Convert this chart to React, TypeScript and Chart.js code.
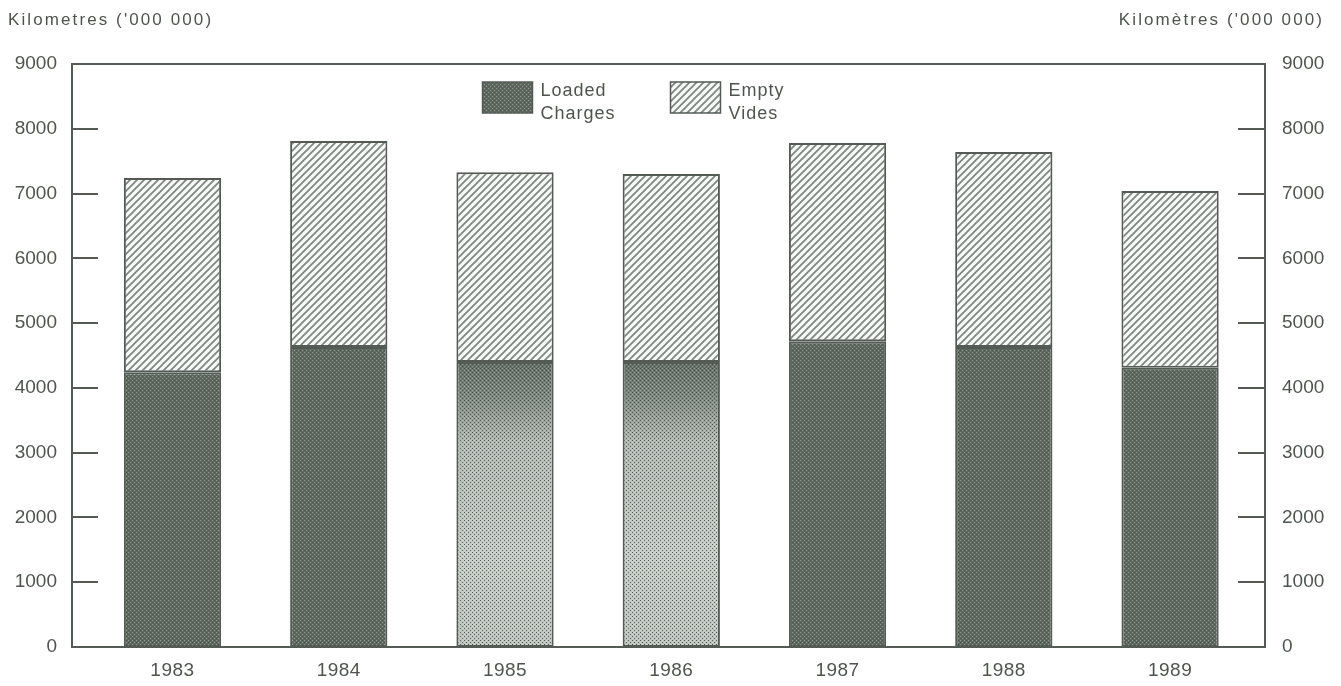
import React, { useEffect, useRef } from 'react';
import { Chart, registerables } from 'chart.js';

Chart.register(...registerables);

const years = ['1983', '1984', '1985', '1986', '1987', '1988', '1989'];
const loaded = [4240, 4630, 4400, 4400, 4720, 4630, 4310];
const empty = [3000, 3180, 2930, 2900, 3060, 3010, 2730];
const yTicks = [0, 1000, 2000, 3000, 4000, 5000, 6000, 7000, 8000, 9000];
const leftTitle = "Kilometres ('000 000)";
const rightTitle = "Kilomètres ('000 000)";
const loadedLabel = ['Loaded', 'Charges'];
const emptyLabel = ['Empty', 'Vides'];
const lightLoadedYears = ['1985', '1986'];

const FONT = "'Liberation Sans', Arial, Helvetica, sans-serif";
const TEXT = '#4e554f';
const LINE = '#535b54';

function makeHatch(ctx: CanvasRenderingContext2D) {
  const s = 7;
  const c = document.createElement('canvas');
  c.width = s;
  c.height = s;
  const g = c.getContext('2d')!;
  g.fillStyle = '#f5f8f5';
  g.fillRect(0, 0, s, s);
  g.strokeStyle = '#7b837c';
  g.lineWidth = 1.6;
  g.beginPath();
  g.moveTo(-1, s + 1);
  g.lineTo(s + 1, -1);
  g.moveTo(-s / 2 - 1, s / 2 + 1);
  g.lineTo(s / 2 + 1, -s / 2 - 1);
  g.moveTo(s / 2 - 1, s * 1.5 + 1);
  g.lineTo(s * 1.5 + 1, s / 2 - 1);
  g.stroke();
  return ctx.createPattern(c, 'repeat')!;
}

function makeDots(ctx: CanvasRenderingContext2D) {
  const c = document.createElement('canvas');
  c.width = 4;
  c.height = 4;
  const g = c.getContext('2d')!;
  g.fillStyle = '#5e685f';
  g.fillRect(0, 0, 4, 4);
  g.fillStyle = '#939d94';
  g.fillRect(0, 0, 1, 1);
  g.fillRect(2, 2, 1, 1);
  g.fillStyle = '#4c554d';
  g.fillRect(2, 0, 1, 1);
  g.fillRect(0, 2, 1, 1);
  return ctx.createPattern(c, 'repeat')!;
}

function makeFadingDots(ctx: CanvasRenderingContext2D, h: number, yTop: number) {
  const c = document.createElement('canvas');
  c.width = 4;
  c.height = Math.max(1, Math.ceil(h));
  const g = c.getContext('2d')!;
  const grad = g.createLinearGradient(0, yTop, 0, h);
  grad.addColorStop(0, '#646e66');
  grad.addColorStop(0.1, '#7d867e');
  grad.addColorStop(0.25, '#b3bab3');
  grad.addColorStop(0.6, '#c6ccc6');
  grad.addColorStop(1, '#b9c0ba');
  g.fillStyle = grad;
  g.fillRect(0, 0, 4, c.height);
  for (let y = 0; y < c.height; y += 4) {
    g.fillStyle = 'rgba(60,68,62,0.8)';
    g.fillRect(0, y, 1, 1);
    g.fillRect(2, y + 2, 1, 1);
    g.fillStyle = 'rgba(255,255,255,0.3)';
    g.fillRect(2, y, 1, 1);
    g.fillRect(0, y + 2, 1, 1);
  }
  return ctx.createPattern(c, 'repeat')!;
}

export default function App() {
  const ref = useRef<HTMLCanvasElement>(null);

  useEffect(() => {
    const canvas = ref.current!;
    const ctx0 = canvas.getContext('2d')!;
    const hatch = makeHatch(ctx0);
    const dots = makeDots(ctx0);
    const fadeCache: Record<string, CanvasPattern> = {};

    const loadedFill = (c: any) => {
      const chart = c.chart;
      const i = c.dataIndex;
      if (i === undefined || !chart.chartArea || !chart.scales || !chart.scales.y) return dots;
      if (lightLoadedYears.includes(years[i])) {
        const yTop = chart.scales.y.getPixelForValue(loaded[i]);
        const key = String(Math.round(yTop));
        if (!fadeCache[key]) fadeCache[key] = makeFadingDots(chart.ctx, chart.height, yTop);
        return fadeCache[key];
      }
      return dots;
    };

    const framePlugin = {
      id: 'framePlugin',
      afterDatasetsDraw(chart: any) {
        const { ctx, chartArea } = chart;
        const { left, right, top, bottom } = chartArea;
        const y = chart.scales.y;
        ctx.save();
        ctx.strokeStyle = LINE;
        ctx.lineWidth = 2;
        ctx.strokeRect(left, top, right - left, bottom - top);
        ctx.beginPath();
        yTicks.slice(1, -1).forEach((v) => {
          const py = Math.round(y.getPixelForValue(v));
          ctx.moveTo(left, py);
          ctx.lineTo(left + 26, py);
          ctx.moveTo(right - 27, py);
          ctx.lineTo(right, py);
        });
        ctx.stroke();
        ctx.restore();
      },
      afterDraw(chart: any) {
        const { ctx, chartArea } = chart;
        const xs = chart.scales.x;
        ctx.save();
        ctx.fillStyle = TEXT;
        ctx.textBaseline = 'middle';

        // category labels under the bars
        ctx.font = `19px ${FONT}`;
        (ctx as any).letterSpacing = '0.5px';
        ctx.textAlign = 'center';
        years.forEach((yr, i) => {
          ctx.fillText(yr, xs.getPixelForValue(i), chartArea.bottom + 24);
        });

        ctx.font = `17px ${FONT}`;
        (ctx as any).letterSpacing = '2.1px';
        ctx.textAlign = 'left';
        ctx.fillText(leftTitle, 0, 12);
        ctx.textAlign = 'right';
        ctx.fillText(rightTitle, chart.width - 9, 12);

        // legend
        const cx = (chartArea.left + chartArea.right) / 2;
        const items = [
          { fill: dots, text: loadedLabel, x: cx - 186 },
          { fill: hatch, text: emptyLabel, x: cx + 2 },
        ];
        items.forEach((it) => {
          ctx.fillStyle = it.fill;
          ctx.fillRect(it.x, 74, 50, 31);
          ctx.strokeStyle = LINE;
          ctx.lineWidth = 1.5;
          ctx.strokeRect(it.x, 74, 50, 31);
          ctx.fillStyle = TEXT;
          ctx.font = `18px ${FONT}`;
          (ctx as any).letterSpacing = '1px';
          ctx.textAlign = 'left';
          ctx.fillText(it.text[0], it.x + 58, 83);
          ctx.fillText(it.text[1], it.x + 58, 106);
        });
        ctx.restore();
      },
    };

    const tickFont = { family: FONT, size: 19 };

    const chart = new Chart(canvas, {
      type: 'bar',
      data: {
        datasets: [
          {
            label: loadedLabel.join(' / '),
            data: years.map((_, i) => ({ x: i, y: loaded[i] })),
            backgroundColor: loadedFill as any,
            borderColor: LINE,
            borderWidth: 2,
            borderSkipped: false,
            barPercentage: 0.585,
            categoryPercentage: 1,
          },
          {
            label: emptyLabel.join(' / '),
            data: years.map((_, i) => ({ x: i, y: empty[i] })),
            backgroundColor: hatch as any,
            borderColor: LINE,
            borderWidth: 2,
            borderSkipped: false,
            barPercentage: 0.585,
            categoryPercentage: 1,
          },
        ],
      },
      options: {
        responsive: false,
        animation: false,
        layout: { padding: { top: 56, left: 0, right: 0, bottom: 39 } },
        plugins: {
          legend: { display: false },
          tooltip: { enabled: false },
          title: { display: false },
        },
        scales: {
          x: {
            type: 'linear',
            stacked: true,
            min: -0.6045,
            max: 6.571,
            offset: false,
            grid: { display: false, drawTicks: false },
            border: { display: false },
            ticks: { display: false, stepSize: 1, includeBounds: false },
            afterFit: (s: any) => {
              s.height = 0;
            },
          },
          y: {
            type: 'linear',
            position: 'left',
            stacked: true,
            min: 0,
            max: 9000,
            grid: { display: false, drawTicks: false },
            border: { display: false },
            ticks: {
              stepSize: 1000,
              padding: 15,
              color: TEXT,
              font: tickFont,
              callback: (v: any) => String(v),
            },
            afterFit: (s: any) => {
              s.width = 64;
            },
          },
          y2: {
            type: 'linear',
            position: 'right',
            min: 0,
            max: 9000,
            grid: { display: false, drawTicks: false },
            border: { display: false },
            ticks: {
              stepSize: 1000,
              padding: 17,
              color: TEXT,
              font: tickFont,
              callback: (v: any) => String(v),
            },
            afterFit: (s: any) => {
              s.width = 68;
            },
          },
        },
      },
      plugins: [framePlugin],
    } as any);

    return () => chart.destroy();
  }, []);

  return (
    <div style={{ width: 1325, height: 678, marginBottom: -8 }}>
      <canvas ref={ref} width={1325} height={678} style={{ display: 'block' }} />
    </div>
  );
}
